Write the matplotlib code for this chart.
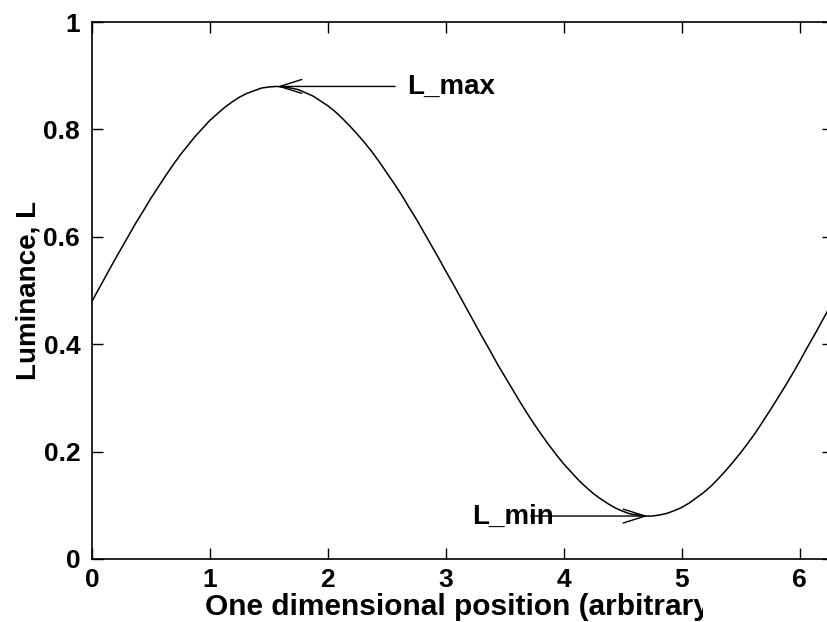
import matplotlib
matplotlib.use("Agg")
import matplotlib.pyplot as plt
from matplotlib.patches import Rectangle

# Curve values (x step 0.0625)
position = [0.0, 0.0625, 0.125, 0.1875, 0.25, 0.3125, 0.375, 0.4375, 0.5, 0.5625, 0.625, 0.6875,
            0.75, 0.8125, 0.875, 0.9375, 1.0, 1.0625, 1.125, 1.1875, 1.25, 1.3125, 1.375, 1.4375,
            1.5, 1.5625, 1.625, 1.6875, 1.75, 1.8125, 1.875, 1.9375, 2.0, 2.0625, 2.125, 2.1875,
            2.25, 2.3125, 2.375, 2.4375, 2.5, 2.5625, 2.625, 2.6875, 2.75, 2.8125, 2.875, 2.9375,
            3.0, 3.0625, 3.125, 3.1875, 3.25, 3.3125, 3.375, 3.4375, 3.5, 3.5625, 3.625, 3.6875,
            3.75, 3.8125, 3.875, 3.9375, 4.0, 4.0625, 4.125, 4.1875, 4.25, 4.3125, 4.375, 4.4375,
            4.5, 4.5625, 4.625, 4.6875, 4.75, 4.8125, 4.875, 4.9375, 5.0, 5.0625, 5.125, 5.1875,
            5.25, 5.3125, 5.375, 5.4375, 5.5, 5.5625, 5.625, 5.6875, 5.75, 5.8125, 5.875, 5.9375,
            6.0, 6.0625, 6.125, 6.1875, 6.25, 6.283]
luminance = [0.480, 0.505, 0.530, 0.555, 0.579, 0.603, 0.627, 0.649, 0.672, 0.693, 0.714, 0.734,
             0.753, 0.770, 0.787, 0.802, 0.817, 0.829, 0.841, 0.851, 0.860, 0.867, 0.872, 0.877,
             0.879, 0.880, 0.879, 0.877, 0.874, 0.868, 0.862, 0.853, 0.844, 0.833, 0.820, 0.806,
             0.791, 0.775, 0.758, 0.739, 0.719, 0.699, 0.678, 0.655, 0.633, 0.609, 0.585, 0.561,
             0.536, 0.512, 0.487, 0.462, 0.437, 0.412, 0.388, 0.363, 0.340, 0.317, 0.294, 0.272,
             0.251, 0.231, 0.212, 0.194, 0.177, 0.162, 0.147, 0.134, 0.122, 0.112, 0.103, 0.095,
             0.089, 0.084, 0.082, 0.080, 0.080, 0.082, 0.085, 0.090, 0.096, 0.104, 0.114, 0.124,
             0.136, 0.150, 0.165, 0.181, 0.198, 0.216, 0.235, 0.256, 0.277, 0.299, 0.321, 0.344,
             0.368, 0.393, 0.417, 0.442, 0.467, 0.480]

x_ticks = [0, 1, 2, 3, 4, 5, 6]
y_ticks = [0, 0.2, 0.4, 0.6, 0.8, 1]
y_tick_labels = ["0", "0.2", "0.4", "0.6", "0.8", "1"]

max_point = (1.571, 0.88)
max_text = (2.67, 0.88)
max_tail = (2.57, 0.88)
min_point = (4.712, 0.08)
min_text = (3.22, 0.078)
min_tail = (3.72, 0.08)

plt.rcParams['font.family'] = ['Liberation Sans', 'DejaVu Sans']
plt.rcParams['font.weight'] = 'bold'

W, H = 827, 622
fig = plt.figure(figsize=(W / 100, H / 100), dpi=100)
left_px, right_px, top_px, bottom_px = 92, 833, 22, 559
ax = fig.add_axes([left_px / W, 1 - bottom_px / H, (right_px - left_px) / W, (bottom_px - top_px) / H])

ax.plot(position, luminance, color='black', lw=1.1, solid_joinstyle='round')
ax.set_xlim(0, 6.283)
ax.set_ylim(0, 1)
ax.set_xticks(x_ticks)
ax.set_xticklabels([str(t) for t in x_ticks])
ax.set_yticks(y_ticks)
ax.set_yticklabels(y_tick_labels)
ax.tick_params(direction='in', length=8, width=1, top=True, right=True, labelsize=19)
ax.tick_params(axis='x', pad=6.5)
ax.tick_params(axis='y', pad=8.5)
for s in ax.spines.values():
    s.set_linewidth(1.2)

ax.set_xlabel("One dimensional position (arbitrary)", fontsize=21.5, fontweight='bold')
ax.xaxis.set_label_coords(0.5, -0.0633)
xl = ax.xaxis.label
clip_rect = Rectangle((0, 0), 703 / W, 1, transform=fig.transFigure, visible=False)
fig.add_artist(clip_rect)
xl.set_clip_on(True)
xl.set_clip_path(clip_rect)

ax.set_ylabel("Luminance, L", fontsize=20, fontweight='bold')
ax.yaxis.label.set_verticalalignment('center')
ax.yaxis.set_label_coords((28 - left_px) / (right_px - left_px), 0.5)

arrow = dict(arrowstyle='->,head_length=0.8,head_width=0.25', color='black', lw=1,
             shrinkA=0, shrinkB=0, mutation_scale=20)
ax.text(*max_text, "L_max", fontsize=20, fontweight='bold', va='center', ha='left')
ax.annotate("", xy=max_point, xytext=max_tail, arrowprops=arrow)
ax.text(*min_text, "L_min", fontsize=20, fontweight='bold', va='center', ha='left')
ax.annotate("", xy=min_point, xytext=min_tail, arrowprops=arrow)

fig.savefig("out.png", dpi=100)
